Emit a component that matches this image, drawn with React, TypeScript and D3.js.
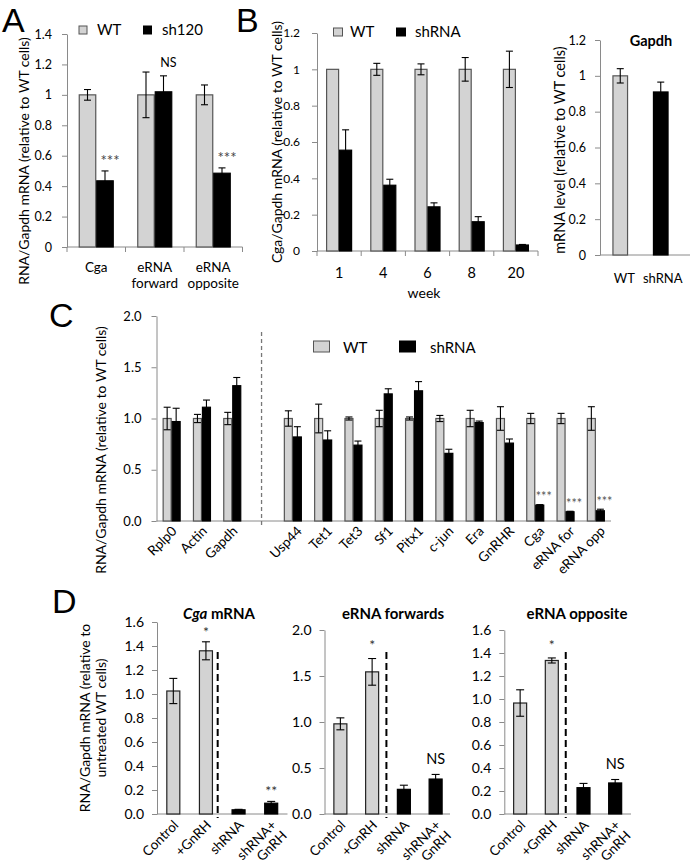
import React, { useEffect, useRef } from "react";
import * as d3 from "d3";

const FONT = "Lato, 'Liberation Sans', Arial, sans-serif";
const WT_FILL = "#d3d3d3";
const WT_STROKE = "#555555";
const SH_FILL = "#000000";
const AXIS = "#8a8a8a";

// ---------- Panel A ----------
const aCategories = ["Cga", "eRNA\nforward", "eRNA\nopposite"];
const aWT = [1.0, 1.0, 1.0];
const aWTErr = [0.035, 0.15, 0.065];
const aSh = [0.435, 1.02, 0.485];
const aShErr = [0.065, 0.105, 0.035];
const aSig = ["***", "NS", "***"];
const aTicks = [0, 0.2, 0.4, 0.6, 0.8, 1, 1.2, 1.4];
const aLegend = ["WT", "sh120"];

// ---------- Panel B ----------
const bWeeks = ["1", "4", "6", "8", "20"];
const bWT = [1, 1, 1, 1, 1];
const bWTErr = [0, 0.033, 0.03, 0.065, 0.1];
const bSh = [0.555, 0.362, 0.243, 0.161, 0.033];
const bShErr = [0.112, 0.033, 0.022, 0.028, 0.003];
const bTicks = [0, 0.2, 0.4, 0.6, 0.8, 1, 1.2];
const bLegend = ["WT", "shRNA"];

// ---------- Gapdh inset ----------
const gCategories = ["WT", "shRNA"];
const gValues = [1.0, 0.91];
const gErr = [0.04, 0.055];
const gTicks = [0, 0.2, 0.4, 0.6, 0.8, 1, 1.2];

// ---------- Panel C ----------
const cCategories = ["Rplp0", "Actin", "Gapdh", "", "Usp44", "Tet1", "Tet3", "Sf1", "Pitx1", "c-jun", "Era", "GnRHR", "Cga", "eRNA for", "eRNA opp"];
const cWT = [1, 1, 1, NaN, 1, 1, 1, 1, 1, 1, 1, 1, 1, 1, 1];
const cWTErr = [0.11, 0.04, 0.06, NaN, 0.075, 0.14, 0.015, 0.08, 0.015, 0.03, 0.08, 0.115, 0.05, 0.05, 0.115];
const cSh = [0.97, 1.11, 1.32, NaN, 0.82, 0.79, 0.74, 1.24, 1.27, 0.66, 0.96, 0.76, 0.155, 0.09, 0.1];
const cShErr = [0.13, 0.07, 0.08, NaN, 0.1, 0.09, 0.04, 0.05, 0.09, 0.04, 0.015, 0.04, 0.005, 0.005, 0.015];
const cSig = ["", "", "", "", "", "", "", "", "", "", "", "", "***", "***", "***"];
const cTicks = [0, 0.5, 1, 1.5, 2];
const cLegend = ["WT", "shRNA"];

// ---------- Panel D ----------
const dCategories = ["Control", "+GnRH", "shRNA", "shRNA+\nGnRH"];
const dIsShRNA = [false, false, true, true];
const dCgaValues = [1.025, 1.36, 0.035, 0.09];
const dCgaErr = [0.105, 0.075, 0.004, 0.015];
const dCgaSig = ["", "*", "", "**"];
const dCgaTicks = [0, 0.2, 0.4, 0.6, 0.8, 1.0, 1.2, 1.4, 1.6];
const dFwdValues = [0.98, 1.545, 0.268, 0.38];
const dFwdErr = [0.065, 0.145, 0.045, 0.05];
const dFwdSig = ["", "*", "", "NS"];
const dFwdTicks = [0, 0.5, 1.0, 1.5, 2.0];
const dOppValues = [0.965, 1.335, 0.229, 0.27];
const dOppErr = [0.115, 0.022, 0.037, 0.03];
const dOppSig = ["", "*", "", "NS"];
const dOppTicks = [0, 0.2, 0.4, 0.6, 0.8, 1.0, 1.2, 1.4, 1.6];

type Sel = d3.Selection<SVGGElement, unknown, null, undefined>;

interface SeriesCfg {
  values: number[];
  errs: number[];
  fill: (i: number) => string;
  stroke: (i: number) => string;
  sig?: string[];
}

interface ChartCfg {
  cats: string[];
  x0: number;
  x1: number;
  xAxisEnd?: number;
  yBase: number;
  yTop: number;
  yMax: number;
  ticks: number[];
  fmt: (d: number) => string;
  tickFont: number;
  tickPad: number;
  barW: number;
  capW: number;
  series: SeriesCfg[];
  boundaryTicks?: boolean;
  sigFont: number;
  starFont: number;
  sigGap: number;
  sigDx: number;
  sigColor: string;
}

function barChart(g: Sel, cfg: ChartCfg) {
  const x = d3.scaleBand<string>().domain(cfg.cats.map((c, i) => i + "")).range([cfg.x0, cfg.x1]);
  const y = d3.scaleLinear().domain([0, cfg.yMax]).range([cfg.yBase, cfg.yTop]);

  const axis = d3
    .axisLeft(y)
    .tickValues(cfg.ticks)
    .tickSize(5)
    .tickSizeOuter(0)
    .tickPadding(cfg.tickPad)
    .tickFormat((d) => cfg.fmt(+d));
  const ya = g.append("g").attr("transform", `translate(${cfg.x0},0)`).call(axis);
  ya.select(".domain").attr("stroke", AXIS);
  ya.selectAll(".tick line").attr("stroke", AXIS);
  ya.selectAll(".tick text").attr("font-size", cfg.tickFont).attr("font-family", FONT).attr("fill", "#000");

  g.append("line")
    .attr("x1", cfg.x0)
    .attr("x2", cfg.xAxisEnd ?? cfg.x1)
    .attr("y1", y(0))
    .attr("y2", y(0))
    .attr("stroke", AXIS);
  if (cfg.boundaryTicks) {
    const step = x.step();
    for (let i = 0; i <= cfg.cats.length; i++) {
      const xx = cfg.x0 + i * step;
      g.append("line").attr("x1", xx).attr("x2", xx).attr("y1", y(0)).attr("y2", y(0) + 5).attr("stroke", AXIS);
    }
  }

  const ns = cfg.series.length;
  cfg.series.forEach((s, si) => {
    s.values.forEach((v, i) => {
      if (!isFinite(v)) return;
      const cx = (x(i + "") as number) + x.bandwidth() / 2;
      const bx = cx - (ns * cfg.barW) / 2 + si * cfg.barW;
      const fill = s.fill(i);
      const stroke = s.stroke(i);
      g.append("rect")
        .attr("x", bx + 0.5)
        .attr("y", y(v))
        .attr("width", cfg.barW - 1)
        .attr("height", y(0) - y(v))
        .attr("fill", fill)
        .attr("stroke", stroke)
        .attr("stroke-width", 1.2);
      const e = s.errs[i];
      const bc = bx + cfg.barW / 2;
      if (e > 0) {
        const eg = g.append("g").attr("stroke", "#000").attr("stroke-width", 1.1);
        eg.append("line").attr("x1", bc).attr("x2", bc).attr("y1", y(v - e)).attr("y2", y(v + e));
        eg.append("line").attr("x1", bc - cfg.capW / 2).attr("x2", bc + cfg.capW / 2).attr("y1", y(v + e)).attr("y2", y(v + e));
        eg.append("line").attr("x1", bc - cfg.capW / 2).attr("x2", bc + cfg.capW / 2).attr("y1", y(v - e)).attr("y2", y(v - e));
      }
      const lab = s.sig ? s.sig[i] : "";
      if (lab) {
        const isStar = lab.includes("*");
        const fs = isStar ? cfg.starFont : cfg.sigFont;
        const center = y(v + (e > 0 ? e : 0)) - cfg.sigGap;
        const base = center + (isStar ? 0.55 : 0.36) * fs;
        g.append("text")
          .attr("x", bc + cfg.sigDx)
          .attr("y", base)
          .attr("text-anchor", "middle")
          .attr("font-size", fs)
          .attr("font-family", FONT)
          .attr("fill", isStar ? cfg.sigColor : "#000")
          .text(lab);
      }
    });
  });
  return { x, y };
}

function legend(g: Sel, items: { label: string; fill: string; stroke: string }[], boxes: number[], texts: number[], y: number, bw: number, bh: number, fs: number) {
  items.forEach((it, i) => {
    g.append("rect").attr("x", boxes[i]).attr("y", y - bh).attr("width", bw).attr("height", bh).attr("fill", it.fill).attr("stroke", it.stroke).attr("stroke-width", 1);
    g.append("text").attr("x", texts[i]).attr("y", y + 1).attr("font-size", fs).attr("font-family", FONT).attr("fill", "#000").text(it.label);
  });
}

function vText(g: Sel, cx: number, cy: number, txt: string, fs: number) {
  g.append("text")
    .attr("transform", `translate(${cx},${cy}) rotate(-90)`)
    .attr("text-anchor", "middle")
    .attr("dominant-baseline", "central")
    .attr("font-size", fs)
    .attr("font-family", FONT)
    .attr("fill", "#000")
    .text(txt);
}

function panelLetter(g: Sel, x: number, y: number, t: string) {
  g.append("text").attr("x", x).attr("y", y).attr("font-size", 34).attr("font-family", "'Liberation Sans', Arial, sans-serif").attr("fill", "#000").text(t);
}

const fmtPlain = (d: number) => String(+d.toFixed(1));
const fmt1 = d3.format(".1f");

const App = () => {
  const ref = useRef<SVGSVGElement>(null);
  useEffect(() => {
    const svg = d3.select(ref.current as SVGSVGElement);
    svg.selectAll("*").remove();
    const root = svg.append("g") as unknown as Sel;

    // ================= Panel A =================
    panelLetter(root, 2, 31.5, "A");
    const A = barChart(root, {
      cats: aCategories,
      x0: 67,
      x1: 242.5,
      yBase: 247,
      yTop: 34,
      yMax: 1.4,
      ticks: aTicks,
      fmt: fmtPlain,
      tickFont: 12.5,
      tickPad: 10,
      barW: 17.5,
      capW: 7,
      boundaryTicks: true,
      series: [
        { values: aWT, errs: aWTErr, fill: () => WT_FILL, stroke: () => WT_STROKE },
        { values: aSh, errs: aShErr, fill: () => SH_FILL, stroke: () => SH_FILL, sig: aSig },
      ],
      sigFont: 12.5,
      starFont: 15,
      sigGap: 13,
      sigDx: 5,
      sigColor: "#444",
    });
    aCategories.forEach((c, i) => {
      const cx = (A.x(i + "") as number) + A.x.bandwidth() / 2;
      c.split("\n").forEach((line, li) => {
        root.append("text").attr("x", cx).attr("y", 271.5 + li * 16.5).attr("text-anchor", "middle").attr("font-size", 13.5).attr("font-family", FONT).attr("fill", "#000").text(line);
      });
    });
    legend(root, [
      { label: aLegend[0], fill: WT_FILL, stroke: WT_STROKE },
      { label: aLegend[1], fill: SH_FILL, stroke: SH_FILL },
    ], [79, 143.5], [97, 162], 34, 8, 8, 15);
    vText(root, 23, 161, "RNA/Gapdh mRNA (relative to WT cells)", 14);

    // ================= Panel B =================
    panelLetter(root, 236, 31.5, "B");
    const B = barChart(root, {
      cats: bWeeks,
      x0: 317,
      x1: 538,
      yBase: 251,
      yTop: 33,
      yMax: 1.2,
      ticks: bTicks,
      fmt: fmtPlain,
      tickFont: 12,
      tickPad: 12,
      barW: 13,
      capW: 7,
      boundaryTicks: true,
      series: [
        { values: bWT, errs: bWTErr, fill: () => WT_FILL, stroke: () => WT_STROKE },
        { values: bSh, errs: bShErr, fill: () => SH_FILL, stroke: () => SH_FILL },
      ],
      sigFont: 12,
      starFont: 12,
      sigGap: 10,
      sigDx: 0,
      sigColor: "#444",
    });
    bWeeks.forEach((w, i) => {
      const cx = (B.x(i + "") as number) + B.x.bandwidth() / 2;
      root.append("text").attr("x", cx).attr("y", 277.5).attr("text-anchor", "middle").attr("font-size", 14.5).attr("font-family", FONT).attr("fill", "#000").text(w);
    });
    root.append("text").attr("x", 424).attr("y", 298).attr("text-anchor", "middle").attr("font-size", 14).attr("font-family", FONT).attr("fill", "#000").text("week");
    legend(root, [
      { label: bLegend[0], fill: WT_FILL, stroke: WT_STROKE },
      { label: bLegend[1], fill: SH_FILL, stroke: SH_FILL },
    ], [333.5, 396.5], [350, 415], 36, 9, 8, 15);
    vText(root, 276, 142, "Cga/Gapdh mRNA (relative to WT cells)", 14);

    // ================= Gapdh inset =================
    const G = barChart(root, {
      cats: gCategories,
      x0: 600,
      x1: 681,
      xAxisEnd: 690,
      yBase: 255,
      yTop: 40,
      yMax: 1.2,
      ticks: gTicks,
      fmt: fmtPlain,
      tickFont: 12.5,
      tickPad: 9,
      barW: 15.6,
      capW: 7,
      series: [
        { values: gValues, errs: gErr, fill: (i) => (i === 0 ? WT_FILL : SH_FILL), stroke: (i) => (i === 0 ? WT_STROKE : SH_FILL) },
      ],
      sigFont: 12,
      starFont: 12,
      sigGap: 10,
      sigDx: 0,
      sigColor: "#444",
    });
    gCategories.forEach((c, i) => {
      const cx = (G.x(i + "") as number) + G.x.bandwidth() / 2;
      root.append("text").attr("x", cx + (i === 0 ? 4 : 2)).attr("y", 283).attr("text-anchor", "middle").attr("font-size", 13).attr("font-family", FONT).attr("fill", "#000").text(c);
    });
    root.append("text").attr("x", 651).attr("y", 46).attr("text-anchor", "middle").attr("font-size", 14.5).attr("font-weight", "bold").attr("font-family", FONT).attr("fill", "#000").text("Gapdh");
    vText(root, 559, 150, "mRNA level (relative to WT cells)", 14.5);

    // ================= Panel C =================
    panelLetter(root, 49, 327, "C");
    const C = barChart(root, {
      cats: cCategories,
      x0: 156.5,
      x1: 611,
      yBase: 521,
      yTop: 316,
      yMax: 2,
      ticks: cTicks,
      fmt: fmt1,
      tickFont: 13,
      tickPad: 10,
      barW: 9,
      capW: 7,
      series: [
        { values: cWT, errs: cWTErr, fill: () => WT_FILL, stroke: () => WT_STROKE },
        { values: cSh, errs: cShErr, fill: () => SH_FILL, stroke: () => SH_FILL, sig: cSig },
      ],
      sigFont: 12,
      starFont: 12.5,
      sigGap: 10,
      sigDx: 4,
      sigColor: "#555",
    });
    cCategories.forEach((c, i) => {
      if (!c) return;
      const cx = (C.x(i + "") as number) + C.x.bandwidth() / 2;
      const dx = i < 3 ? 6 : 10;
      root.append("text")
        .attr("transform", `translate(${cx + dx},${532}) rotate(-45)`)
        .attr("text-anchor", "end")
        .attr("font-size", 13.5)
        .attr("font-family", FONT)
        .attr("fill", "#000")
        .text(c);
    });
    {
      const gx = (C.x("3") as number) + C.x.bandwidth() / 2 - 1;
      root.append("line").attr("x1", gx).attr("x2", gx).attr("y1", 332).attr("y2", 526).attr("stroke", "#777").attr("stroke-width", 1.3).attr("stroke-dasharray", "4,3");
    }
    legend(root, [
      { label: cLegend[0], fill: WT_FILL, stroke: WT_STROKE },
      { label: cLegend[1], fill: SH_FILL, stroke: SH_FILL },
    ], [313.5, 399.5], [343, 430], 352, 16, 11, 15);
    vText(root, 100, 450, "RNA/Gapdh mRNA (relative to WT cells)", 14);

    // ================= Panel D =================
    panelLetter(root, 52, 613, "D");
    const dPanels = [
      { values: dCgaValues, errs: dCgaErr, sig: dCgaSig, ticks: dCgaTicks, yMax: 1.6, x0: 157, x1: 287.5, xEnd: 287.5, yTop: 622, dash: 0.36, title: "Cga", cx: 219 },
      { values: dFwdValues, errs: dFwdErr, sig: dFwdSig, ticks: dFwdTicks, yMax: 2.0, x0: 324.5, x1: 451.5, xEnd: 450, yTop: 630, dash: 0.45, title: "eRNA forwards", cx: 393 },
      { values: dOppValues, errs: dOppErr, sig: dOppSig, ticks: dOppTicks, yMax: 1.6, x0: 504.3, x1: 631, xEnd: 631, yTop: 630, dash: 0.44, title: "eRNA opposite", cx: 577 },
    ];
    dPanels.forEach((p, pi) => {
      const D = barChart(root, {
        cats: dCategories,
        x0: p.x0,
        x1: p.x1,
        xAxisEnd: p.xEnd,
        yBase: 814,
        yTop: p.yTop,
        yMax: p.yMax,
        ticks: p.ticks,
        fmt: fmt1,
        tickFont: 14,
        tickPad: 8,
        barW: 14,
        capW: 8,
        series: [
          {
            values: p.values,
            errs: p.errs,
            fill: (i) => (dIsShRNA[i] ? SH_FILL : WT_FILL),
            stroke: (i) => (dIsShRNA[i] ? SH_FILL : "#222"),
            sig: p.sig,
          },
        ],
        sigFont: 14.5,
        starFont: 14,
        sigGap: pi === 0 ? 13 : 16,
        sigDx: 0,
        sigColor: "#333",
      });
      const step = D.x.step();
      const c1 = (D.x("1") as number) + D.x.bandwidth() / 2;
      const dx = c1 + p.dash * step;
      root.append("line").attr("x1", dx).attr("x2", dx).attr("y1", 652).attr("y2", 818).attr("stroke", "#000").attr("stroke-width", 2).attr("stroke-dasharray", "7,4");
      dCategories.forEach((c, i) => {
        const cx = (D.x(i + "") as number) + D.x.bandwidth() / 2;
        const t = root.append("text")
          .attr("transform", `translate(${cx + 6},${826}) rotate(-45)`)
          .attr("text-anchor", "end")
          .attr("font-size", 13.5)
          .attr("font-family", FONT)
          .attr("fill", "#000");
        c.split("\n").forEach((line, li) => {
          t.append("tspan").attr("x", 0).attr("dy", li === 0 ? 0 : "1.1em").text(line);
        });
      });
      const tt = root.append("text").attr("x", p.cx).attr("y", 619).attr("text-anchor", "middle").attr("font-size", 15).attr("font-weight", "bold").attr("font-family", FONT).attr("fill", "#000");
      if (pi === 0) {
        tt.append("tspan").attr("font-style", "italic").text(p.title);
        tt.append("tspan").text(" mRNA");
      } else {
        tt.text(p.title);
      }
    });
    root.append("text")
      .attr("transform", `translate(90,718) rotate(-90)`)
      .attr("text-anchor", "middle")
      .attr("font-size", 14)
      .attr("font-family", FONT)
      .attr("fill", "#000")
      .text("RNA/Gapdh mRNA (relative to");
    root.append("text")
      .attr("transform", `translate(106,718) rotate(-90)`)
      .attr("text-anchor", "middle")
      .attr("font-size", 14)
      .attr("font-family", FONT)
      .attr("fill", "#000")
      .text("untreated WT cells)");
  }, []);
  return (
    <svg
      ref={ref}
      width={690}
      height={863}
      style={{ position: "absolute", left: 0, top: 0, background: "#fff" }}
    />
  );
};

export default App;
